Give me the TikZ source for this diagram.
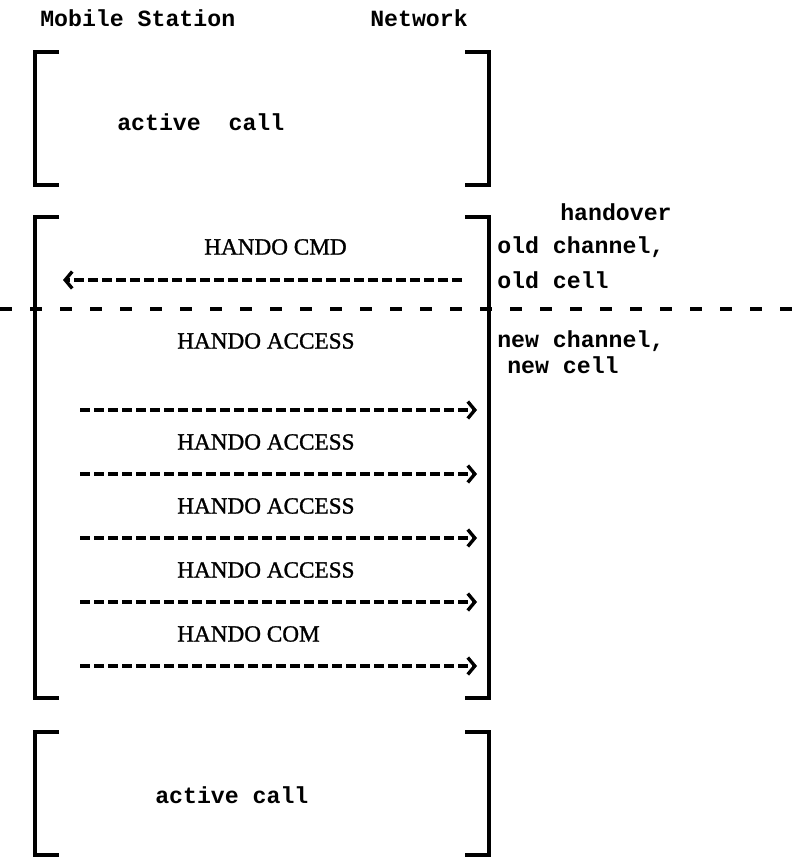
\documentclass[tikz,border=0pt]{standalone}
\usepackage{fontspec}
\setmonofont{Liberation Mono}
\newfontfamily\msgfont[FakeBold=1.2]{Liberation Serif}
\usetikzlibrary{arrows.meta}

\tikzset{
  lbl/.style={font=\fontsize{16.5}{18}\selectfont\ttfamily\bfseries, inner sep=0pt, anchor=west},
  msg/.style={font=\fontsize{16.5}{18}\selectfont\msgfont, inner sep=0pt, anchor=west},
  brk/.style={line width=2.3pt},
  sig/.style={line width=2.4pt, dash pattern=on 0.24cm off 0.11cm,
    -{Straight Barb[length=5pt,width=12pt]}},
  sep/.style={line width=2.3pt, dash pattern=on 0.3cm off 0.45cm},
}

\begin{document}
\begin{tikzpicture}[x=0.025cm, y=-0.025cm]
\useasboundingbox (0,0) rectangle (806,859);

\def\xL{35}
\def\xR{489}
\def\tick{24}

% --- HEADINGS ---
\node[lbl] (ms) at (40,18) {Mobile Station};
\node[lbl] (nw) at (370,18) {Network};

% --- BRACKETS ---
\foreach \top/\bot in {52/185, 217/698, 732/855} {
  \draw[brk] (\xL+\tick,\top) -- (\xL,\top) -- (\xL,\bot) -- (\xL+\tick,\bot);
  \draw[brk] (\xR-\tick,\top) -- (\xR,\top) -- (\xR,\bot) -- (\xR-\tick,\bot);
}

% --- ACTIVE CALLS ---
\node[lbl] (call1) at (117,122) {active\ \ call};
\node[lbl] (call2) at (155,795) {active call};

% --- OLD CHANNEL ---
\node[msg] (cmd) at (204,247) {HANDO CMD};
\coordinate (cmdNw) at (462,280);
\coordinate (cmdMs) at (63,280);
\draw[sig] (cmdNw) -- (cmdMs);

% --- DIVIDER ---
\coordinate (sepL) at (0,309);
\coordinate (sepR) at (806,309);
\draw[sep] (sepL) -- (sepR);

% --- NEW CHANNEL ---
\foreach \ly/\ay/\txt [count=\i] in {341/410/HANDO ACCESS, 442/474/HANDO ACCESS,
    506/538/HANDO ACCESS, 570/602/HANDO ACCESS, 634/666/HANDO COM} {
  \node[msg] (acc\i) at (177,\ly) {\txt};
  \coordinate (ms\i) at (80,\ay);
  \coordinate (nw\i) at (477,\ay);
  \draw[sig] (ms\i) -- (nw\i);
}

% --- NOTES ---
\node[lbl] (ho) at (560,212) {handover};
\node[lbl] (oldch) at (497,247) {old channel,};
\node[lbl] (oldc) at (497,280) {old cell};
\node[lbl] (newch) at (497,341) {new channel,};
\node[lbl] (newc) at (507,365) {new cell};

\end{tikzpicture}
\end{document}
